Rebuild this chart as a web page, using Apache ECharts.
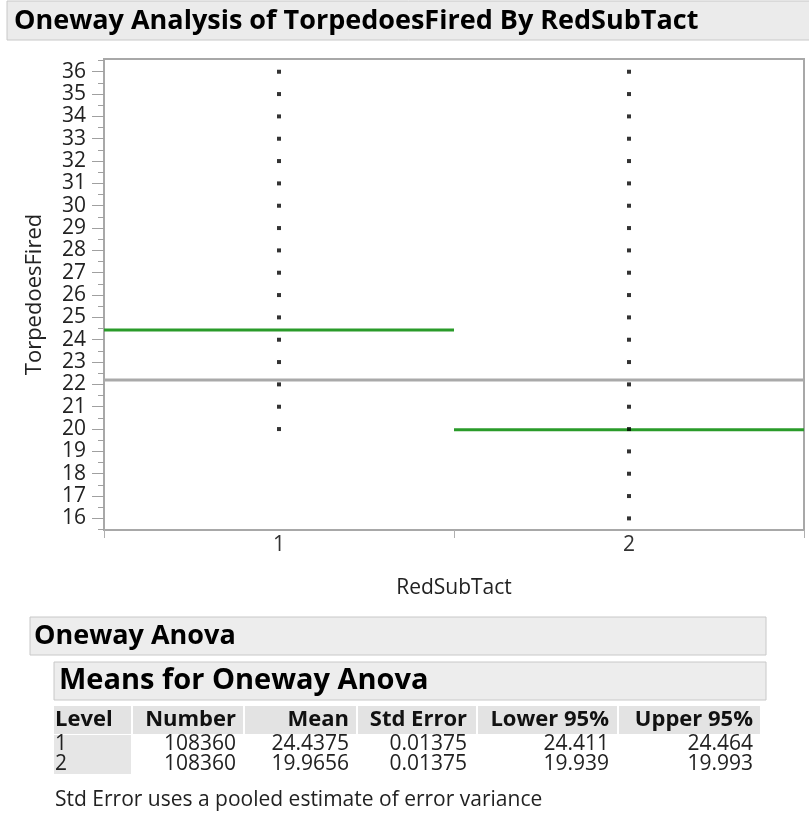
<!DOCTYPE html>
<html>
<head>
<meta charset="utf-8">
<script src="https://cdn.jsdelivr.net/npm/echarts@6/dist/echarts.min.js"></script>
<style>
  html, body { margin: 0; padding: 0; background: #fff; }
  #chart { width: 809px; height: 824px; }
</style>
</head>
<body>
<div id="chart"></div>
<script>
// 类别与观测到的取值
const categories = ['1', '2'];
const level1Values = [20, 21, 22, 23, 24, 25, 26, 27, 28, 29, 30, 31, 32, 33, 34, 35, 36];
const level2Values = [16, 17, 18, 19, 20, 21, 22, 23, 24, 25, 26, 27, 28, 29, 30, 31, 32, 33, 34, 35, 36];
const grandMean = 22.2;

// Y 轴刻度
const yTicks = [16, 17, 18, 19, 20, 21, 22, 23, 24, 25, 26, 27, 28, 29, 30, 31, 32, 33, 34, 35, 36];
const yMinorTicks = [15.5, 16.5, 17.5, 18.5, 19.5, 20.5, 21.5, 22.5, 23.5, 24.5, 25.5, 26.5, 27.5, 28.5, 29.5, 30.5, 31.5, 32.5, 33.5, 34.5, 35.5, 36.5];

// 表格数据
const tableHeaders = ['Level', 'Number', 'Mean', 'Std Error', 'Lower 95%', 'Upper 95%'];
const levels = ['1', '2'];
const numbers = [108360, 108360];
const means = [24.4375, 19.9656];
const stdErrors = [0.01375, 0.01375];
const lower95 = [24.411, 19.939];
const upper95 = [24.464, 19.993];

const FONT = '"Open Sans", "Noto Sans", sans-serif';
const GREEN = '#2a9b2a';
const AXIS_GRAY = '#a8a8a8';

const chart = echarts.init(document.getElementById('chart'));

// 表格的图形元素
const buildTable = () => {
  const g = [];
  // 标题栏
  g.push({ type: 'rect', shape: { x: 7, y: 1, width: 810, height: 39 },
    style: { fill: '#ebebeb', stroke: '#c8c8c8', lineWidth: 1 } });
  g.push({ type: 'text', x: 14, y: 21,
    style: { text: 'Oneway Analysis of TorpedoesFired By RedSubTact', font: 'bold 27px ' + FONT,
      fill: '#000', verticalAlign: 'middle' } });

  g.push({ type: 'rect', shape: { x: 30, y: 617, width: 736, height: 38 },
    style: { fill: '#ededed', stroke: '#c8c8c8', lineWidth: 1 } });
  g.push({ type: 'text', x: 34, y: 636,
    style: { text: 'Oneway Anova', font: 'bold 27px ' + FONT, fill: '#000', verticalAlign: 'middle' } });

  g.push({ type: 'rect', shape: { x: 54, y: 662, width: 712, height: 38 },
    style: { fill: '#ededed', stroke: '#c8c8c8', lineWidth: 1 } });
  g.push({ type: 'text', x: 59, y: 681,
    style: { text: 'Means for Oneway Anova', font: 'bold 29px ' + FONT, fill: '#000', verticalAlign: 'middle' } });

  // 表头单元格
  const cellX = [54, 133, 245, 358, 478, 619];
  const cellW = [77, 110, 111, 118, 139, 141];
  const textRight = [null, 236, 349, 467, 609, 753];
  tableHeaders.forEach((h, i) => {
    g.push({ type: 'rect', shape: { x: cellX[i], y: 706, width: cellW[i], height: 28 },
      style: { fill: '#e3e3e3' } });
    g.push({ type: 'text', x: i === 0 ? 55 : textRight[i], y: 720,
      style: { text: h, font: 'bold 22px ' + FONT, fill: '#111',
        align: i === 0 ? 'left' : 'right', verticalAlign: 'middle' } });
  });
  g.push({ type: 'rect', shape: { x: 54, y: 735, width: 77, height: 39 }, style: { fill: '#e6e6e6' } });

  const rowY = [744, 764];
  levels.forEach((lv, r) => {
    const cells = [lv, numbers[r], means[r], stdErrors[r], lower95[r], upper95[r]];
    cells.forEach((c, i) => {
      g.push({ type: 'text', x: i === 0 ? 55 : textRight[i], y: rowY[r],
        style: { text: String(c), font: '21px ' + FONT, fill: '#222',
          align: i === 0 ? 'left' : 'right', verticalAlign: 'middle' } });
    });
  });

  g.push({ type: 'text', x: 55, y: 800,
    style: { text: 'Std Error uses a pooled estimate of error variance', font: '21px ' + FONT,
      fill: '#222', verticalAlign: 'middle' } });
  return g;
};

const option = {
  animation: false,
  backgroundColor: '#fff',
  grid: {
    left: 104, top: 59, width: 700, height: 471,
    show: true, borderColor: AXIS_GRAY, borderWidth: 2, backgroundColor: '#fff'
  },
  xAxis: [
    {
      type: 'category',
      data: categories,
      position: 'bottom',
      name: 'RedSubTact',
      nameLocation: 'middle',
      nameGap: 48,
      nameTextStyle: { fontFamily: FONT, fontSize: 21, color: '#222' },
      axisLine: { lineStyle: { color: AXIS_GRAY, width: 2 } },
      axisTick: { show: true, length: 8, interval: 0, lineStyle: { color: '#b0b0b0' } },
      axisLabel: { fontFamily: FONT, fontSize: 21, color: '#333', margin: 5 },
      splitLine: { show: false }
    },
    {
      // 隐藏的数值轴，用于绘制均值线
      type: 'value',
      position: 'bottom',
      min: 0.5,
      max: 2.5,
      show: false
    }
  ],
  yAxis: [
    {
      type: 'value',
      position: 'left',
      min: 15.48,
      max: 36.57,
      name: 'TorpedoesFired',
      nameLocation: 'middle',
      nameRotate: 90,
      nameGap: 58,
      nameTextStyle: { fontFamily: FONT, fontSize: 22, color: '#222' },
      axisLine: { show: true, lineStyle: { color: AXIS_GRAY, width: 2 } },
      axisTick: { show: true, length: 12, customValues: yTicks, lineStyle: { color: '#a0a0a0' } },
      axisLabel: { customValues: yTicks, fontFamily: FONT, fontSize: 21, color: '#222', margin: 18 },
      splitLine: { show: false }
    },
    {
      // 次刻度
      type: 'value',
      position: 'left',
      min: 15.48,
      max: 36.57,
      axisLine: { show: false },
      axisTick: { show: true, length: 6, customValues: yMinorTicks, lineStyle: { color: '#a0a0a0' } },
      axisLabel: { show: false },
      splitLine: { show: false }
    }
  ],
  series: [
    {
      type: 'line',
      xAxisIndex: 1,
      symbol: 'none',
      z: 2,
      lineStyle: { color: '#a9a9a9', width: 3 },
      data: [[0.5, grandMean], [2.5, grandMean]]
    },
    {
      type: 'line',
      xAxisIndex: 1,
      symbol: 'none',
      z: 3,
      lineStyle: { color: GREEN, width: 3 },
      data: [[0.5, means[0]], [1.5, means[0]]]
    },
    {
      type: 'line',
      xAxisIndex: 1,
      symbol: 'none',
      z: 3,
      lineStyle: { color: GREEN, width: 3 },
      data: [[1.5, means[1]], [2.5, means[1]]]
    },
    {
      type: 'scatter',
      symbol: 'rect',
      symbolSize: 4,
      z: 5,
      itemStyle: { color: '#000' },
      data: level1Values.map((v) => [categories[0], v]).concat(level2Values.map((v) => [categories[1], v]))
    }
  ],
  graphic: buildTable()
};

chart.setOption(option);
</script>
</body>
</html>
